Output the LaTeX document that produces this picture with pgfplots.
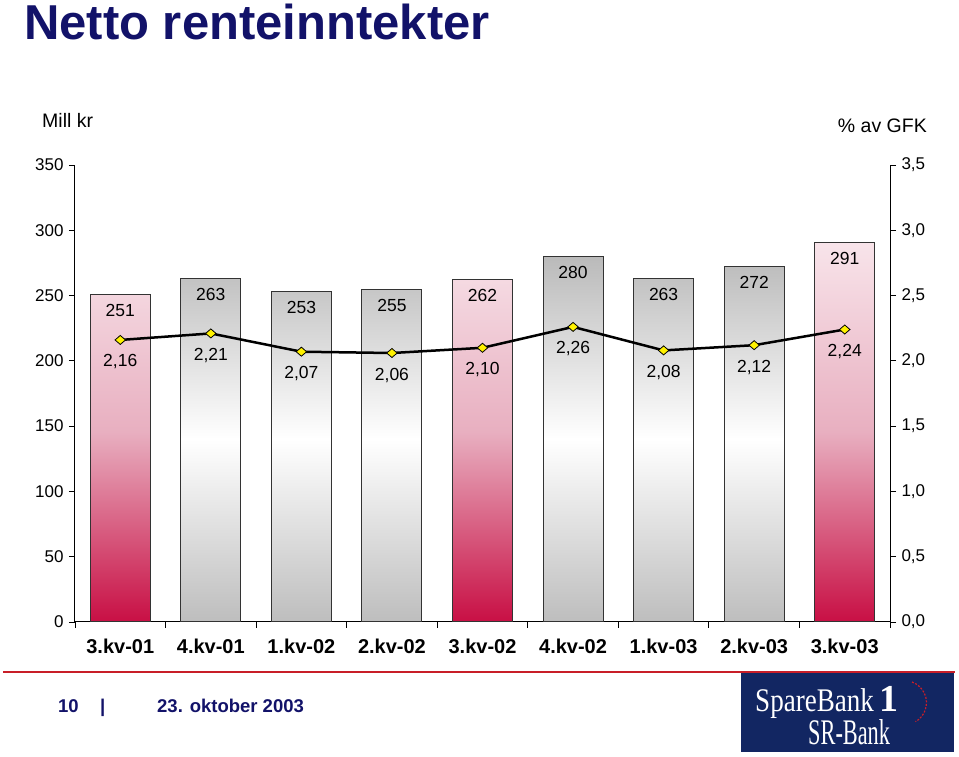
\documentclass[border=0pt]{standalone}
\usepackage{pgfplots}
\pgfplotsset{compat=1.18}
\usepackage{fontspec}
\setmainfont{Liberation Sans}
\newfontfamily\logofont{Liberation Serif}
\definecolor{navy}{RGB}{18,18,105}
\definecolor{logoblue}{RGB}{18,38,98}
\definecolor{pinkT}{RGB}{248,228,234}
\definecolor{pinkM}{RGB}{232,175,192}
\definecolor{crim}{RGB}{200,15,68}
\definecolor{barg}{RGB}{186,186,186}
\definecolor{redline}{RGB}{200,30,40}
\pgfplotsset{/pgf/number format/assume math mode=true}
\begin{document}
\begin{tikzpicture}[x=1pt,y=1pt]
\useasboundingbox (0,0) rectangle (959,757);
\fill[white] (0,0) rectangle (959,757);
% title
\node[anchor=base west, inner sep=0pt, text=navy, font=\fontsize{49}{49}\selectfont\bfseries] at (24,717) {Netto renteinntekter};
% axis labels
\node[anchor=base west, inner sep=0pt, font=\fontsize{19.5}{19.5}\selectfont] at (42,629) {Mill kr};
\node[anchor=base east, inner sep=0pt, font=\fontsize{19.5}{19.5}\selectfont] at (927,624) {\% av GFK};

\begin{axis}[
  at={(75pt,135pt)}, anchor=south west, scale only axis,
  width=815pt, height=457pt,
  xmin=-0.5, xmax=8.5, ymin=0, ymax=350,
  axis x line*=bottom, axis y line*=left,
  axis line style={-, black, line width=1pt},
  tick align=outside, major tick length=6pt,
  tick style={black, line width=0.9pt},
  ytick={0,50,...,350},
  yticklabel style={font=\fontsize{17}{17}\selectfont, xshift=-2pt},
  xtick={-0.5,0.5,...,8.5},
  xticklabels={3.kv-01,4.kv-01,1.kv-02,2.kv-02,3.kv-02,4.kv-02,1.kv-03,2.kv-03,3.kv-03,{}},
  xticklabel style={font=\fontsize{20}{20}\selectfont\bfseries, xshift=45.28pt, yshift=-7pt},
  clip=false,
  every node near coord/.append style={anchor=center, yshift=-16pt, font=\fontsize{17.5}{17.5}\selectfont, text=black},
]
\addplot[ybar, bar width=60pt, bar shift=0pt, draw=black!80, line width=1pt,
  top color=pinkT, bottom color=crim, middle color=pinkM,
  nodes near coords] coordinates {(0,251) (4,262) (8,291)};
\addplot[ybar, bar width=60pt, bar shift=0pt, draw=black!80, line width=1pt,
  top color=barg, bottom color=barg!95, middle color=white,
  nodes near coords] coordinates {(1,263) (2,253) (3,255) (5,280) (6,263) (7,272)};
\end{axis}

\begin{axis}[
  at={(75pt,135pt)}, anchor=south west, scale only axis,
  width=815pt, height=457pt,
  xmin=-0.5, xmax=8.5, ymin=0, ymax=3.5,
  axis y line*=right, axis x line=none,
  axis line style={-, black, line width=1pt},
  tick align=outside, major tick length=6pt,
  tick style={black, line width=0.9pt},
  ytick={0,0.5,...,3.5},
  yticklabel={\pgfmathprintnumber[fixed,fixed zerofill,precision=1,use comma]{\tick}},
  yticklabel style={font=\fontsize{17}{17}\selectfont, xshift=2pt},
  clip=false,
  every node near coord/.append style={anchor=center, yshift=-22pt, font=\fontsize{17.5}{17.5}\selectfont, text=black},
]
\addplot[black, line width=2.5pt, mark=diamond*, mark size=4.5pt,
  mark options={fill=yellow, draw=black, line width=0.8pt, xscale=1.55},
  nodes near coords={\pgfmathprintnumber[fixed,fixed zerofill,precision=2,use comma]{\pgfplotspointmeta}}]
  coordinates {(0,2.16) (1,2.21) (2,2.07) (3,2.06) (4,2.10) (5,2.26) (6,2.08) (7,2.12) (8,2.24)};
\end{axis}

% footer
\draw[redline, line width=2pt] (3,85) -- (955,85);
\node[anchor=base west, inner sep=0pt, text=navy, font=\fontsize{18.5}{18.5}\selectfont\bfseries] at (58,44) {10};
\node[anchor=base west, inner sep=0pt, text=navy, font=\fontsize{18.5}{18.5}\selectfont\bfseries] at (100,44) {|};
\node[anchor=base west, inner sep=0pt, text=navy, font=\fontsize{18.5}{18.5}\selectfont\bfseries] at (157,44) {23. oktober 2003};
% logo
\fill[logoblue] (741,5) rectangle (954,84);
\node[anchor=base west, inner sep=0pt, text=white, font=\logofont\fontsize{33}{33}\selectfont] at (755,45) {\scalebox{0.82}[1]{SpareBank}\,\textbf{\fontsize{38}{38}\selectfont 1}};
\node[anchor=base west, inner sep=0pt, text=white, font=\logofont\fontsize{36}{36}\selectfont] at (808,12) {\scalebox{0.62}[1]{SR-Bank}};
\draw[redline, line width=1.2pt, dash pattern=on 2pt off 1.5pt] (912,75) arc (70:-60:22);
\end{tikzpicture}
\end{document}
